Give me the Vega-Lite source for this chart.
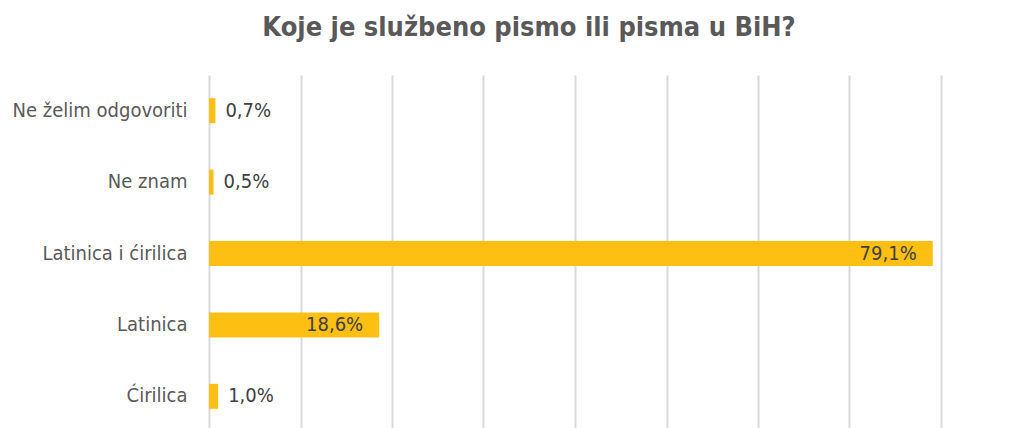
{
  "$schema": "https://vega.github.io/schema/vega-lite/v6.json",
  "width": 732,
  "height": 357,
  "autosize": {"type": "none"},
  "padding": {"left": 209, "top": 75, "right": 85, "bottom": 0},
  "background": "white",
  "title": {
    "text": "Koje je službeno pismo ili pisma u BiH?",
    "font": "DejaVu Sans Condensed, Roboto, sans-serif",
    "fontSize": 27,
    "fontWeight": "bold",
    "color": "#595959",
    "anchor": "middle",
    "dx": -46,
    "offset": 33
  },
  "config": {
    "view": {"stroke": null},
    "locale": {"number": {"decimal": ",", "thousands": ".", "grouping": [3], "currency": ["", " KM"]}},
    "axis": {"labelFont": "DejaVu Sans Condensed, Roboto, sans-serif"}
  },
  "data": {
    "values": [
      {"odgovor": "Ne želim odgovoriti", "udio": 0.007},
      {"odgovor": "Ne znam", "udio": 0.005},
      {"odgovor": "Latinica i ćirilica", "udio": 0.791},
      {"odgovor": "Latinica", "udio": 0.186},
      {"odgovor": "Ćirilica", "udio": 0.010}
    ]
  },
  "encoding": {
    "y": {
      "field": "odgovor",
      "type": "nominal",
      "sort": null,
      "scale": {"paddingInner": 0.65, "paddingOuter": 0.325},
      "axis": {
        "title": null,
        "domain": false,
        "ticks": false,
        "labelPadding": 22,
        "labelFontSize": 20,
        "labelColor": "#595959"
      }
    },
    "x": {
      "field": "udio",
      "type": "quantitative",
      "scale": {"domain": [0, 0.8], "nice": false},
      "axis": {
        "title": null,
        "labels": false,
        "ticks": false,
        "domain": false,
        "values": [0, 0.1, 0.2, 0.3, 0.4, 0.5, 0.6, 0.7, 0.8],
        "gridColor": "#D9D9D9",
        "gridWidth": 2
      }
    }
  },
  "layer": [
    {"mark": {"type": "bar", "color": "#FCBF12"}},
    {
      "transform": [{"filter": "datum.udio < 0.1"}],
      "mark": {"type": "text", "align": "left", "dx": 10, "font": "DejaVu Sans Condensed, Roboto, sans-serif", "fontSize": 20, "color": "#404040"},
      "encoding": {"text": {"field": "udio", "type": "quantitative", "format": ".1%"}}
    },
    {
      "transform": [{"filter": "datum.udio >= 0.1"}],
      "mark": {"type": "text", "align": "right", "dx": -16, "font": "DejaVu Sans Condensed, Roboto, sans-serif", "fontSize": 20, "color": "#404040"},
      "encoding": {"text": {"field": "udio", "type": "quantitative", "format": ".1%"}}
    }
  ]
}
